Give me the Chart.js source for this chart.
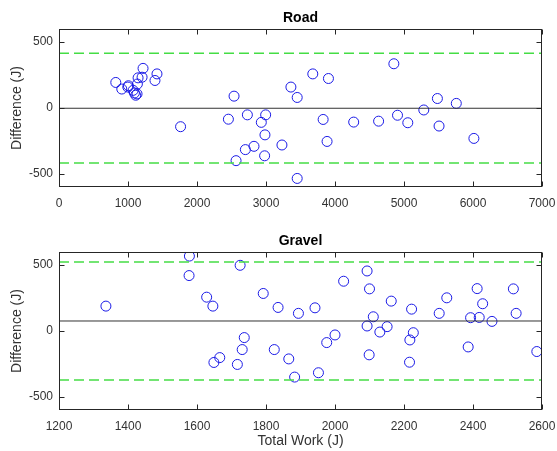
<!DOCTYPE html>
<html>
<head>
<meta charset="UTF-8">
<title>Road / Gravel</title>
<script src="https://cdn.jsdelivr.net/npm/chart.js"></script>
<style>
  body { margin: 0; background: #fff; }
  canvas { position: absolute; left: 0; }
</style>
</head>
<body>
<canvas id="roadChart" width="557" height="212" style="top:0"></canvas>
<canvas id="gravelChart" width="557" height="239" style="top:212px"></canvas>
<script>
// Road: total work vs difference
const roadX = [823, 910, 1006, 997, 1074, 1093, 1112, 1131, 1136, 1146, 1204, 1218, 1391, 1420,
  1762, 2455, 2537, 2730, 2995, 2932, 2985, 2701, 2826, 2980, 2566,
  3231, 3452, 3361, 3452, 3678, 3905, 3828, 3885, 4271, 4632, 4853, 4906, 5055, 5287, 5484, 5508, 5758, 6013];
const roadY = [194, 144, 169, 159, 134, 114, 97, 107, 182, 229, 234, 301, 209, 259,
  -142, -85, 90, -52, -52, -109, -204, -316, -291, -363, -400,
  -281, -535, 159, 80, 259, 224, -87, -254, -107, -100, 336, -55, -112, -15, 72, -137, 35, -231];
const roadMean = -2;
const roadUpper = 415;
const roadLower = -418;

// Gravel
const gravelX = [1336, 1578, 1577, 1628, 1646, 1649, 1666, 1717, 1725, 1737, 1731, 1792, 1824,
  1835, 1894, 1866, 1883, 1942, 1952, 1976, 2000, 2025, 2093, 2100, 2093, 2099, 2111, 2130, 2151,
  2163, 2217, 2227, 2216, 2222, 2302, 2324, 2386, 2393, 2412, 2418, 2428, 2455, 2517, 2525, 2585];
const gravelY = [189, 569, 421, 257, 189, -239, -202, -254, 499, -50, -141, 285, -141,
  179, 134, -212, -350, 176, -317, -88, -30, 378, 456, 320, 38, -181, 108, -8, 33,
  227, -68, -13, -237, 166, 134, 252, -121, 101, 322, 103, 207, 73, 320, 134, -156];
const gravelMean = 76;
const gravelUpper = 524;
const gravelLower = -373;

const yTicks = [-500, 0, 500];

// box around plot + inward tick marks, plus panel title
const boxPlugin = {
  id: 'box',
  afterDraw(chart) {
    const ctx = chart.ctx;
    const a = chart.chartArea;
    const xs = chart.scales.x, ys = chart.scales.y;
    ctx.save();
    ctx.strokeStyle = '#262626';
    ctx.lineWidth = 1;
    const L = Math.round(a.left) + 0.5, R = Math.round(a.right) - 0.5;
    const T = Math.round(a.top) + 0.5, B = Math.round(a.bottom) - 0.5;
    ctx.strokeRect(L, T, R - L, B - T);
    ctx.beginPath();
    xs.ticks.forEach(t => {
      const px = Math.round(xs.getPixelForValue(t.value)) + 0.5;
      ctx.moveTo(px, B); ctx.lineTo(px, B - 5);
      ctx.moveTo(px, T); ctx.lineTo(px, T + 5);
    });
    ys.ticks.forEach(t => {
      const py = Math.round(ys.getPixelForValue(t.value)) + 0.5;
      ctx.moveTo(L, py); ctx.lineTo(L + 5, py);
      ctx.moveTo(R, py); ctx.lineTo(R - 5, py);
    });
    ctx.stroke();
    const title = chart.options.plugins.box.text;
    ctx.fillStyle = '#000';
    ctx.font = 'bold 14px "Liberation Sans", Arial, sans-serif';
    ctx.textAlign = 'center';
    ctx.textBaseline = 'middle';
    ctx.fillText(title, (a.left + a.right) / 2, a.top - 11);
    ctx.restore();
  }
};

const tickFont = { family: '"Liberation Sans", Arial', size: 12 };
const plain = v => String(v);

function makeChart(id, title, xs, ys, mean, upper, lower, xMin, xMax, xStep, padTop, xHeight, xTitle) {
  const pts = xs.map((x, i) => ({ x: x, y: ys[i] }));
  const hline = v => [{ x: xMin, y: v }, { x: xMax, y: v }];
  new Chart(document.getElementById(id), {
    type: 'scatter',
    data: {
      datasets: [
        { data: hline(upper), showLine: true, borderColor: '#45dd45', borderWidth: 1.5, borderDash: [10, 5], pointRadius: 0 },
        { data: hline(lower), showLine: true, borderColor: '#45dd45', borderWidth: 1.5, borderDash: [10, 5], pointRadius: 0 },
        { data: hline(mean), showLine: true, borderColor: '#333', borderWidth: 1, pointRadius: 0 },
        { data: pts, pointStyle: 'circle', pointRadius: 5, borderColor: '#1a1ae6', borderWidth: 1,
          backgroundColor: 'rgba(0,0,0,0)' }
      ]
    },
    options: {
      responsive: false,
      animation: false,
      layout: { padding: { top: padTop, right: 15, left: 0, bottom: 0 } },
      plugins: { legend: { display: false }, tooltip: { enabled: false }, box: { text: title } },
      scales: {
        x: {
          type: 'linear', min: xMin, max: xMax,
          grid: { display: false, drawTicks: false, tickLength: 0 }, border: { display: false },
          ticks: { stepSize: xStep, padding: 9, color: '#333', font: tickFont, callback: plain, maxRotation: 0 },
          title: { display: !!xTitle, text: xTitle, color: '#333', padding: { top: 0, bottom: 1 },
            font: { family: '"Liberation Sans", Arial', size: 14 } },
          afterFit(s) { s.height = xHeight; s.paddingLeft = 0; s.paddingRight = 0; }
        },
        y: {
          min: -600, max: 600,
          grid: { display: false, drawTicks: false, tickLength: 0 }, border: { display: false },
          afterBuildTicks(s) { s.ticks = yTicks.map(v => ({ value: v })); },
          ticks: { padding: 6, color: '#333', font: tickFont, callback: plain },
          title: { display: true, text: 'Difference (J)', color: '#333', padding: { top: 9, bottom: 0 },
            font: { family: '"Liberation Sans", Arial', size: 14 } },
          afterFit(s) { s.width = 59; s.paddingTop = 0; s.paddingBottom = 0; }
        }
      }
    },
    plugins: [boxPlugin]
  });
}

makeChart('roadChart', 'Road', roadX, roadY, roadMean, roadUpper, roadLower, 0, 7000, 1000, 29, 25, '');
makeChart('gravelChart', 'Gravel', gravelX, gravelY, gravelMean, gravelUpper, gravelLower, 1200, 2600, 200, 40, 41, 'Total Work (J)');
</script>
</body>
</html>
